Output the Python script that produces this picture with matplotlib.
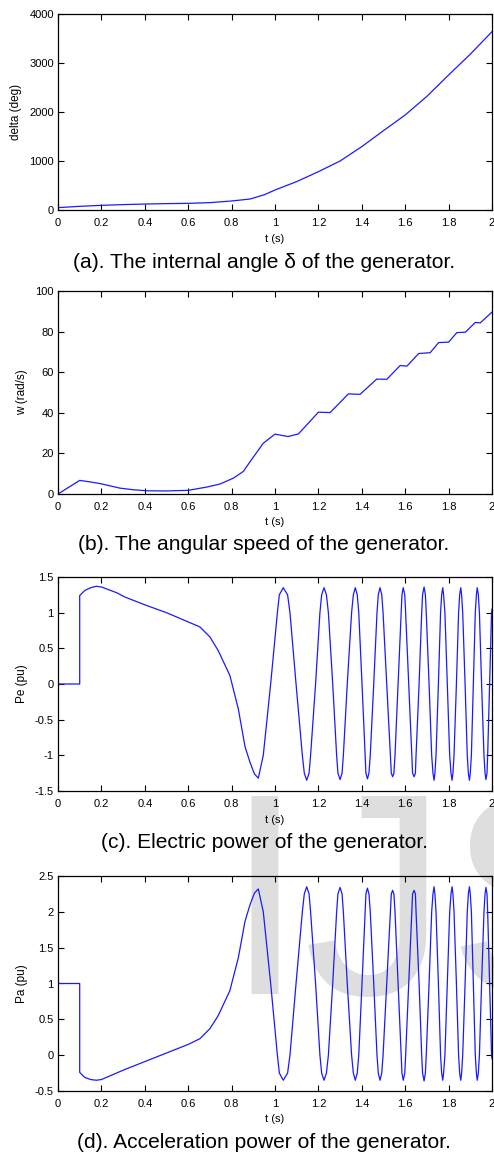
import matplotlib
matplotlib.use("Agg")
import matplotlib.pyplot as plt

plt.rcParams['font.family'] = ['Liberation Sans', 'DejaVu Sans']

# ---------------- data ----------------
t_delta = [0.0, 0.1, 0.2, 0.3, 0.4, 0.5, 0.6, 0.7, 0.8, 0.885, 0.95, 1.0,
           1.1, 1.2, 1.3, 1.4, 1.5, 1.6, 1.7, 1.8, 1.9, 2.0]
delta_deg = [48, 75, 95, 110, 122, 130, 136, 150, 184, 224, 310, 408,
             580, 782, 1000, 1293, 1620, 1939, 2320, 2755, 3180, 3639]

t_w = [0.0, 0.1, 0.146, 0.2, 0.285, 0.346, 0.408, 0.5, 0.6, 0.685, 0.746,
       0.808, 0.854, 0.885, 0.946, 1.0, 1.06, 1.108, 1.2, 1.254, 1.338,
       1.392, 1.469, 1.515, 1.577, 1.608, 1.662, 1.715, 1.754, 1.8, 1.838,
       1.877, 1.923, 1.946, 2.0]
w_rad = [0.0, 6.7, 6.0, 5.0, 2.9, 2.1, 1.6, 1.5, 1.8, 3.4, 4.9,
         7.8, 11.1, 15.9, 25.0, 29.5, 28.3, 29.6, 40.3, 40.1, 49.3,
         49.1, 56.6, 56.5, 63.3, 63.0, 69.2, 69.6, 74.6, 74.8, 79.5,
         79.7, 84.5, 84.3, 89.6]

# time samples (c)/(d): extremes and level crossings
t_pow = [0.0, 0.1, 0.1, 0.1, 0.123, 0.150, 0.177, 0.2, 0.27, 0.308, 0.4,
         0.5, 0.6, 0.654, 0.7, 0.738, 0.792, 0.831, 0.862, 0.885, 0.905,
         0.923, 0.946, 0.980, 1.011, 1.020, 1.038,
         1.058, 1.069, 1.097, 1.126, 1.135, 1.146,
         1.157, 1.164, 1.187, 1.207, 1.215, 1.226,
         1.237, 1.246, 1.266, 1.284, 1.290, 1.300,
         1.309, 1.315, 1.333, 1.353, 1.361, 1.370,
         1.379, 1.386, 1.401, 1.415, 1.419, 1.426,
         1.433, 1.439, 1.455, 1.470, 1.476, 1.484,
         1.492, 1.498, 1.515, 1.532, 1.536, 1.542,
         1.548, 1.553, 1.567, 1.581, 1.585, 1.591,
         1.598, 1.602, 1.616, 1.630, 1.634, 1.641,
         1.647, 1.650, 1.664, 1.676, 1.680, 1.687,
         1.693, 1.697, 1.710, 1.722, 1.728, 1.733,
         1.737, 1.742, 1.753, 1.763, 1.768, 1.773,
         1.777, 1.783, 1.794, 1.805, 1.811, 1.816,
         1.820, 1.825, 1.836, 1.846, 1.851, 1.856,
         1.860, 1.865, 1.876, 1.886, 1.891, 1.896,
         1.900, 1.905, 1.914, 1.923, 1.928, 1.932,
         1.937, 1.942, 1.952, 1.963, 1.968, 1.972,
         1.977, 1.980, 1.989, 1.998, 2.000]

pe_pu = [0.0, 0.0, 0.61, 1.24, 1.31, 1.35, 1.37, 1.36, 1.28, 1.22, 1.11,
         1.0, 0.87, 0.80, 0.66, 0.47, 0.12, -0.35, -0.88, -1.10, -1.26,
         -1.32, -1.0, 0.0, 1.0, 1.25, 1.35,
         1.25, 1.0, 0.0, -1.0, -1.25, -1.35,
         -1.25, -1.0, 0.0, 1.0, 1.25, 1.35,
         1.25, 1.0, 0.0, -1.0, -1.25, -1.34,
         -1.25, -1.0, 0.0, 1.0, 1.25, 1.35,
         1.25, 1.0, 0.0, -1.0, -1.25, -1.33,
         -1.25, -1.0, 0.0, 1.0, 1.25, 1.35,
         1.25, 1.0, 0.0, -1.0, -1.25, -1.30,
         -1.25, -1.0, 0.0, 1.0, 1.25, 1.35,
         1.25, 1.0, 0.0, -1.0, -1.25, -1.30,
         -1.25, -1.0, 0.0, 1.0, 1.25, 1.36,
         1.25, 1.0, 0.0, -1.0, -1.25, -1.35,
         -1.25, -1.0, 0.0, 1.0, 1.25, 1.35,
         1.25, 1.0, 0.0, -1.0, -1.25, -1.35,
         -1.25, -1.0, 0.0, 1.0, 1.25, 1.35,
         1.25, 1.0, 0.0, -1.0, -1.25, -1.35,
         -1.25, -1.0, 0.0, 1.0, 1.25, 1.35,
         1.25, 1.0, 0.0, -1.0, -1.25, -1.34,
         -1.25, -1.0, 0.0, 1.0, 1.05]

pa_pu = [1.0, 1.0, 0.39, -0.24, -0.31, -0.34, -0.35, -0.34, -0.25, -0.20, -0.09,
         0.03, 0.15, 0.23, 0.37, 0.55, 0.90, 1.36, 1.87, 2.10, 2.26,
         2.32, 2.0, 1.0, 0.0, -0.25, -0.35,
         -0.25, 0.0, 1.0, 2.0, 2.25, 2.35,
         2.25, 2.0, 1.0, 0.0, -0.25, -0.35,
         -0.25, 0.0, 1.0, 2.0, 2.25, 2.34,
         2.25, 2.0, 1.0, 0.0, -0.25, -0.35,
         -0.25, 0.0, 1.0, 2.0, 2.25, 2.33,
         2.25, 2.0, 1.0, 0.0, -0.25, -0.35,
         -0.25, 0.0, 1.0, 2.0, 2.25, 2.30,
         2.25, 2.0, 1.0, 0.0, -0.25, -0.35,
         -0.25, 0.0, 1.0, 2.0, 2.25, 2.30,
         2.25, 2.0, 1.0, 0.0, -0.25, -0.36,
         -0.25, 0.0, 1.0, 2.0, 2.25, 2.35,
         2.25, 2.0, 1.0, 0.0, -0.25, -0.35,
         -0.25, 0.0, 1.0, 2.0, 2.25, 2.35,
         2.25, 2.0, 1.0, 0.0, -0.25, -0.35,
         -0.25, 0.0, 1.0, 2.0, 2.25, 2.35,
         2.25, 2.0, 1.0, 0.0, -0.25, -0.35,
         -0.25, 0.0, 1.0, 2.0, 2.25, 2.34,
         2.25, 2.0, 1.0, 0.0, -0.05]

x_ticks = [0, 0.2, 0.4, 0.6, 0.8, 1, 1.2, 1.4, 1.6, 1.8, 2]
x_ticklabels = ["0", "0.2", "0.4", "0.6", "0.8", "1", "1.2", "1.4", "1.6", "1.8", "2"]

panels = [
    dict(t=t_delta, y=delta_deg, ylabel="delta (deg)", ylim=(0, 4000),
         yticks=[0, 1000, 2000, 3000, 4000],
         yticklabels=["0", "1000", "2000", "3000", "4000"],
         caption="(a). The internal angle \u03b4 of the generator."),
    dict(t=t_w, y=w_rad, ylabel="w (rad/s)", ylim=(0, 100),
         yticks=[0, 20, 40, 60, 80, 100],
         yticklabels=["0", "20", "40", "60", "80", "100"],
         caption="(b). The angular speed of the generator."),
    dict(t=t_pow, y=pe_pu, ylabel="Pe (pu)", ylim=(-1.5, 1.5),
         yticks=[-1.5, -1, -0.5, 0, 0.5, 1, 1.5],
         yticklabels=["-1.5", "-1", "-0.5", "0", "0.5", "1", "1.5"],
         caption="(c). Electric power of the generator."),
    dict(t=t_pow, y=pa_pu, ylabel="Pa (pu)", ylim=(-0.5, 2.5),
         yticks=[-0.5, 0, 0.5, 1, 1.5, 2, 2.5],
         yticklabels=["-0.5", "0", "0.5", "1", "1.5", "2", "2.5"],
         caption="(d). Acceleration power of the generator."),
]

# ---------------- layout (pixels) ----------------
W, H = 494, 1155
fig = plt.figure(figsize=(W / 100, H / 100), dpi=100)
fig.patch.set_facecolor("white")

# watermark seen in the reference (drawn behind everything)
fig.text(224 / W, 1 - 994 / H, "IJSER", fontsize=207, color="#dedede",
         family="Liberation Sans", va="baseline", ha="left", zorder=-5)

boxes = [(58, 14, 492, 210), (58, 291, 492, 494), (58, 577, 492, 791), (58, 876, 492, 1091)]
cap_y = [262, 545, 843, 1143]
xlab_y = [239, 522, 820, 1119]

for p, (l, t, r, b), cy, xy in zip(panels, boxes, cap_y, xlab_y):
    ax = fig.add_axes([l / W, 1 - b / H, (r - l) / W, (b - t) / H])
    ax.set_facecolor("none")
    ax.plot(p["t"], p["y"], color="#1a1aff", lw=0.9)
    ax.set_xlim(0, 2)
    ax.set_ylim(*p["ylim"])
    ax.set_xticks(x_ticks)
    ax.set_xticklabels(x_ticklabels)
    ax.set_yticks(p["yticks"])
    ax.set_yticklabels(p["yticklabels"])
    ax.tick_params(direction="in", length=4, width=0.8, top=True, right=True,
                   labelsize=8, colors="black")
    ax.tick_params(axis="x", pad=6)
    ax.tick_params(axis="y", pad=3)
    for s in ax.spines.values():
        s.set_linewidth(0.9)
    ax.set_ylabel(p["ylabel"], fontsize=8.5, labelpad=5)
    fig.text(275 / W, 1 - xy / H, "t (s)", fontsize=8, ha="center", va="center")
    fig.text(264 / W, 1 - cy / H, p["caption"], fontsize=15.1, ha="center", va="center")

fig.savefig("out.png", dpi=100, facecolor="white")
